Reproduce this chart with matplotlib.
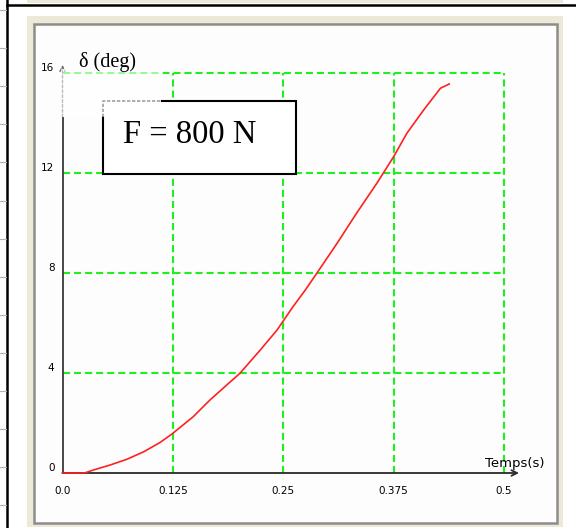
import matplotlib.pyplot as plt
from matplotlib.patches import Rectangle
from matplotlib.transforms import offset_copy

# courbe delta(t)
temps = [0, 0.025, 0.035, 0.054, 0.073, 0.092, 0.110, 0.124, 0.148, 0.167, 0.186,
         0.201, 0.224, 0.243, 0.261, 0.275, 0.288, 0.311, 0.333, 0.356, 0.375,
         0.390, 0.409, 0.428, 0.438]
delta = [0, 0, 0.12, 0.32, 0.55, 0.85, 1.21, 1.56, 2.25, 2.92, 3.52,
         3.99, 4.92, 5.72, 6.65, 7.32, 7.99, 9.19, 10.39, 11.59, 12.65,
         13.59, 14.52, 15.39, 15.56]

xticks = [0.0, 0.125, 0.25, 0.375, 0.5]
xlabels = ["0.0", "0.125", "0.25", "0.375", "0.5"]
yticks = [0, 4, 8, 12, 16]
ylabels = ["0", "4", "8", "12", "16"]

W, H = 576, 528
fig = plt.figure(figsize=(W / 100, H / 100), dpi=100)
fig.patch.set_facecolor("white")

# fond : lignes du tableau + cadre de la fenetre (coordonnees pixel)
bg = fig.add_axes([0, 0, 1, 1], zorder=0)
bg.set_xlim(0, W)
bg.set_ylim(H, 0)
bg.axis("off")
bg.add_patch(Rectangle((27, 0), 536, 2.5, fc="#ece9d8", ec="none"))
bg.add_patch(Rectangle((27, 16), 536, 511, fc="#ece9d8", ec="none"))
bg.add_patch(Rectangle((33.5, 23.5), 523, 499, fc="#fdfdfd", ec="#8e8d88", lw=1.8))
bg.plot([7, 7], [0, H], color="black", lw=1.8)
bg.plot([7, W], [5, 5], color="black", lw=1.8)
for k in range(14):
    bg.plot([0, 6], [10 + 38.1 * k] * 2, color="#b4b4b4", lw=0.8)

# zone du graphique
ax = fig.add_axes([62.5 / W, 1 - 473 / H, 441.5 / W, 400 / H], zorder=1)
ax.set_xlim(0, 0.5)
ax.set_ylim(0, 16)
ax.axis("off")

green = "#1ef01e"
ax.vlines(xticks[1:], 0, 16, colors=green, lw=1.5, linestyles=(0, (3.4, 1.9)), clip_on=False)
ax.hlines(yticks[1:], 0, 0.5, colors=green, lw=1.5, linestyles=(0, (3.4, 1.9)), clip_on=False)

# axes avec fleches
ax.plot([0, 0], [0, 14.24], color="#3a3a3a", lw=1.3, solid_capstyle="butt", clip_on=False)
ax.annotate("", xy=(0, 16.32), xytext=(0, 14.24), annotation_clip=False,
            arrowprops=dict(arrowstyle="->, head_length=0.35, head_width=0.18",
                            color="#6a6a6a", lw=1.0, linestyle=(0, (2, 1.5)),
                            shrinkA=0, shrinkB=0))
ax.annotate("", xy=(0.517, 0), xytext=(0, 0), annotation_clip=False,
            arrowprops=dict(arrowstyle="->, head_length=0.4, head_width=0.2",
                            color="#2a2a2a", lw=1.3, shrinkA=0, shrinkB=0))

ax.plot(temps, delta, color="#ff2020", lw=1.2, clip_on=False, zorder=3)

for t, lab in zip(xticks, xlabels):
    ax.text(t, 0, lab, transform=offset_copy(ax.transData, fig, x=0, y=-18.5, units="dots"),
            ha="center", va="center", fontsize=7.5)
for t, lab in zip(yticks, ylabels):
    ax.text(0, t, lab, transform=offset_copy(ax.transData, fig, x=-8, y=5.3, units="dots"),
            ha="right", va="center", fontsize=7.5)
ax.text(0.5, 0, "Temps(s)", transform=offset_copy(ax.transData, fig, x=-18.7, y=5.7, units="dots"),
        ha="left", va="baseline", fontsize=9.5)

# calque du dessus : zone delavee, cadre F = 800 N, titre de l'axe
ov = fig.add_axes([0, 0, 1, 1], zorder=2)
ov.set_xlim(0, W)
ov.set_ylim(H, 0)
ov.axis("off")
ov.add_patch(Rectangle((61, 69), 102, 48, fc="white", ec="none", alpha=0.55))
ov.add_patch(Rectangle((102.7, 101.3), 193, 72.4, fc="white", ec="none"))
ov.plot([162, 295.7, 295.7, 102.7, 102.7], [101.3, 101.3, 173.7, 173.7, 117],
        color="black", lw=1.5, solid_joinstyle="miter")
ov.plot([102.7, 102.7, 162], [117, 101.3, 101.3], color="#a0a0a0", lw=1.2, ls=(0, (2, 1)))
ov.text(123, 142.7, "F = 800 N", family="Liberation Serif", fontsize=23.5, va="baseline")
ov.text(79, 67, "δ (deg)", family="Liberation Serif", fontsize=14.5, va="baseline")

fig.savefig("out.png", dpi=100)
